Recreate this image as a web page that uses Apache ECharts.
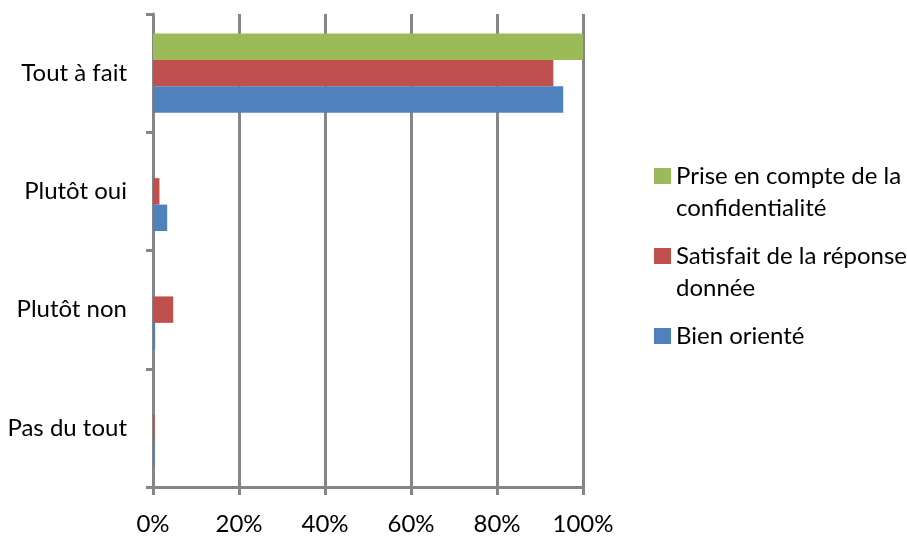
<!DOCTYPE html>
<html>
<head>
<meta charset="utf-8">
<script src="https://cdn.jsdelivr.net/npm/echarts@6/dist/echarts.min.js"></script>
<style>
html,body{margin:0;padding:0;background:#fff;}
#chart{width:907px;height:536px;}
</style>
</head>
<body>
<div id="chart"></div>
<script>
var categories = ['Tout à fait', 'Plutôt oui', 'Plutôt non', 'Pas du tout'];
var xTicks = [0, 20, 40, 60, 80, 100];
var seriesNames = ['Prise en compte de la confidentialité', 'Satisfait de la réponse donnée', 'Bien orienté'];
var legendLabels = ['Prise en compte de la\nconfidentialité', 'Satisfait de la réponse\ndonnée', 'Bien orienté'];
var priseEnCompte = [100, 0, 0, 0];
var satisfait = [93.1, 1.5, 4.7, 0.4];
var bienOriente = [95.4, 3.3, 0.5, 0.4];
var colors = ['#9BBB59', '#C0504D', '#4F81BD'];

var FONT = 'Lato';
var GRAY = '#868686';
var FS = 24;
var LH = 32;

var chart = echarts.init(document.getElementById('chart'), null, {renderer: 'canvas'});
var values = [priseEnCompte, satisfait, bienOriente];
var series = values.map(function (v, i) {
  return {
    name: seriesNames[i],
    type: 'bar',
    data: v,
    barGap: '0%',
    barCategoryGap: '33%',
    itemStyle: {color: colors[i]},
    animation: false
  };
});

// legend text: an empty line above (and below for one-line items) keeps the
// first text line level with the colour square
function legendText(name) {
  var label = legendLabels[seriesNames.indexOf(name)];
  return label.indexOf('\n') >= 0 ? '\n' + label : '\n' + label + '\n';
}

chart.setOption({
  animation: false,
  textStyle: {fontFamily: FONT},
  grid: {left: 153, right: 324, top: 14, bottom: 46, containLabel: false},
  legend: {
    orient: 'vertical',
    left: 654,
    top: 128,
    padding: 0,
    icon: 'rect',
    itemWidth: 17,
    itemHeight: 16,
    itemGap: -16,
    itemTextGap: 8,
    data: seriesNames,
    formatter: legendText,
    textStyle: {fontFamily: FONT, fontSize: FS, color: '#000', lineHeight: LH},
    selectedMode: false
  },
  xAxis: {
    type: 'value',
    min: 0,
    max: 100,
    interval: 20,
    axisLine: {show: true, lineStyle: {color: GRAY, width: 3}},
    axisTick: {show: true, length: 8, lineStyle: {color: GRAY, width: 3}},
    splitLine: {show: true, lineStyle: {color: GRAY, width: 3}},
    axisLabel: {
      fontFamily: FONT, fontSize: FS, color: '#000', margin: 25,
      formatter: function (v) { return xTicks.indexOf(v) >= 0 ? v + '%' : ''; }
    }
  },
  yAxis: {
    type: 'category',
    data: categories,
    inverse: true,
    axisLine: {show: true, lineStyle: {color: GRAY, width: 3}},
    axisTick: {show: true, length: 7, lineStyle: {color: GRAY, width: 3}},
    axisLabel: {fontFamily: FONT, fontSize: FS, color: '#000', margin: 26}
  },
  series: series
});
</script>
</body>
</html>
